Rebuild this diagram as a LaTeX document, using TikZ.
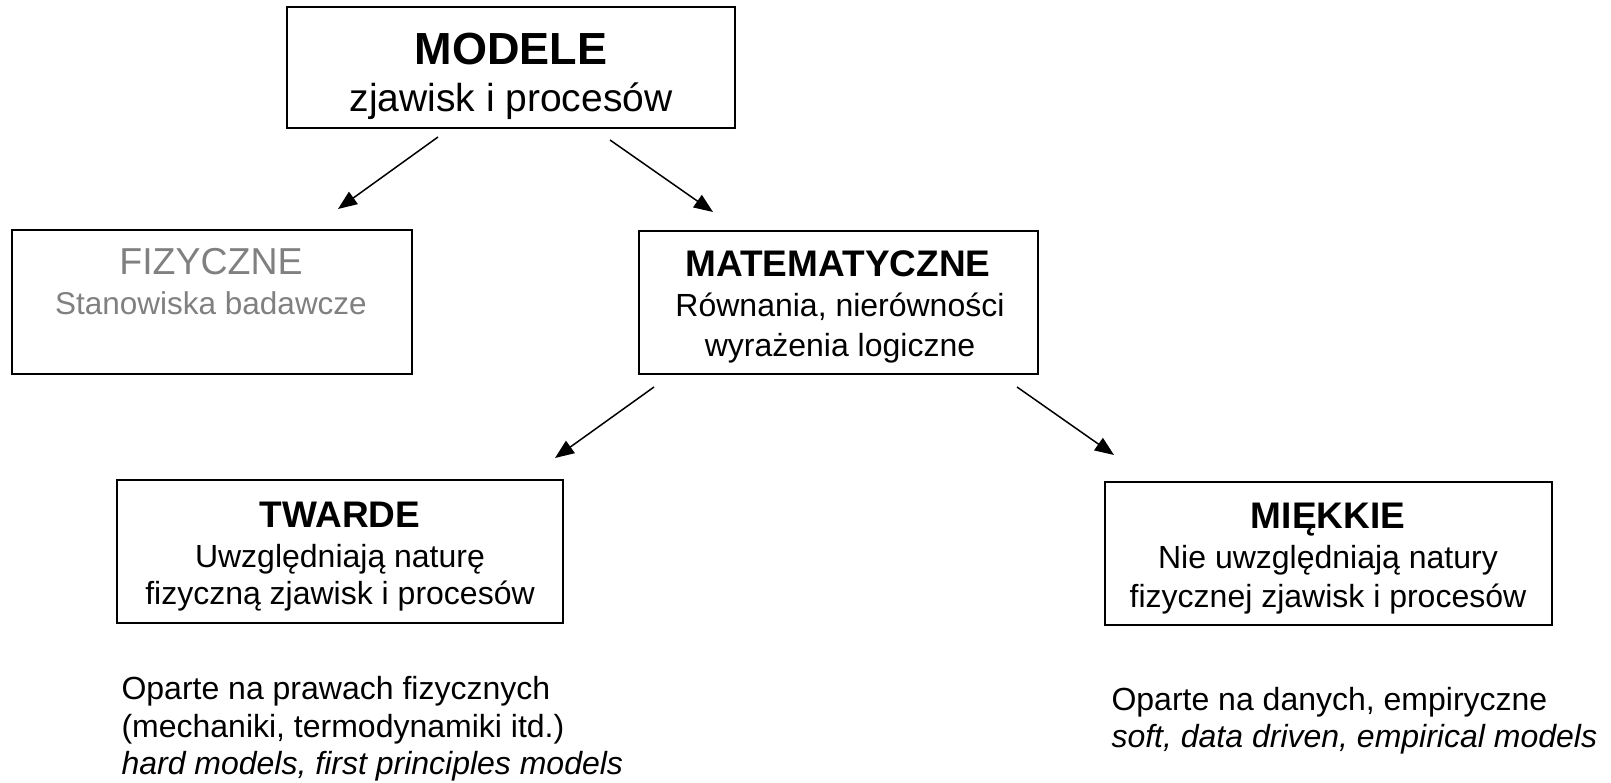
\documentclass[tikz,border=0pt]{standalone}
\usepackage{fontspec}
\setmainfont{Liberation Sans}
\usetikzlibrary{arrows.meta}
\definecolor{fgray}{RGB}{128,128,128}
\begin{document}
\begin{tikzpicture}[x=1pt,y=-1pt,
  box/.style={draw, line width=1.8pt, inner sep=0pt, outer sep=0pt},
  ttl/.style={anchor=base, font=\bfseries\fontsize{37}{44}\selectfont},
  txt/.style={anchor=base, font=\fontsize{32}{38}\selectfont},
  ltxt/.style={anchor=base west, font=\fontsize{32}{38}\selectfont},
  itxt/.style={anchor=base west, font=\itshape\fontsize{32}{38}\selectfont},
  arr/.style={line width=1.5pt, -{Triangle[length=19pt,width=15pt]}}]
\useasboundingbox (0,0) rectangle (1611,783);

% boxes
\node[box, minimum width=448pt, minimum height=121pt] (modele) at (511,67.5) {};
\node[box, minimum width=400pt, minimum height=144pt] (fiz) at (212,302) {};
\node[box, minimum width=399pt, minimum height=143pt] (mat) at (838.5,302.5) {};
\node[box, minimum width=446pt, minimum height=143pt] (twa) at (340,551.5) {};
\node[box, minimum width=447pt, minimum height=143pt] (mie) at (1328.5,553.5) {};

% texts
\node[anchor=base, font=\bfseries\fontsize{45}{54}\selectfont] (tmod1) at (511,65) {MODELE};
\node[anchor=base, font=\fontsize{39}{47}\selectfont] (tmod2) at (511,112) {zjawisk i procesów};

\node[anchor=base, text=fgray, font=\fontsize{37.5}{45}\selectfont] (tfiz1) at (211,275) {FIZYCZNE};
\node[anchor=base, text=fgray, font=\fontsize{31.5}{38}\selectfont] (tfiz2) at (211,315) {Stanowiska badawcze};

\node[ttl] (tmat1) at (838,277) {MATEMATYCZNE};
\node[txt] (tmat2) at (840,317) {Równania, nierówności};
\node[txt] (tmat3) at (840,356) {wyrażenia logiczne};

\node[ttl] (ttwa1) at (340,527) {TWARDE};
\node[txt] (ttwa2) at (340,567) {Uwzględniają naturę};
\node[txt] (ttwa3) at (340,604) {fizyczną zjawisk i procesów};

\node[ttl] (tmie1) at (1328,528) {MIĘKKIE};
\node[txt] (tmie2) at (1328,568) {Nie uwzględniają natury};
\node[txt] (tmie3) at (1328,607) {fizycznej zjawisk i procesów};

\node[ltxt] (dtwa1) at (118,699) {Oparte na prawach fizycznych};
\node[ltxt] (dtwa2) at (118,737) {(mechaniki, termodynamiki itd.)};
\node[itxt] (dtwa3) at (118,774) {hard models, first principles models};

\node[ltxt] (dmie1) at (1108,710) {Oparte na danych, empiryczne};
\node[itxt] (dmie2) at (1108,747) {soft, data driven, empirical models};

% arrow endpoints
\coordinate (a1s) at (438,137);
\coordinate (a1e) at (338,209);
\coordinate (a2s) at (610,140);
\coordinate (a2e) at (713,212);
\coordinate (a3s) at (654,387);
\coordinate (a3e) at (555,458);
\coordinate (a4s) at (1017,387);
\coordinate (a4e) at (1114,455);

\draw[arr] (a1s) -- (a1e);
\draw[arr] (a2s) -- (a2e);
\draw[arr] (a3s) -- (a3e);
\draw[arr] (a4s) -- (a4e);
\end{tikzpicture}
\end{document}
